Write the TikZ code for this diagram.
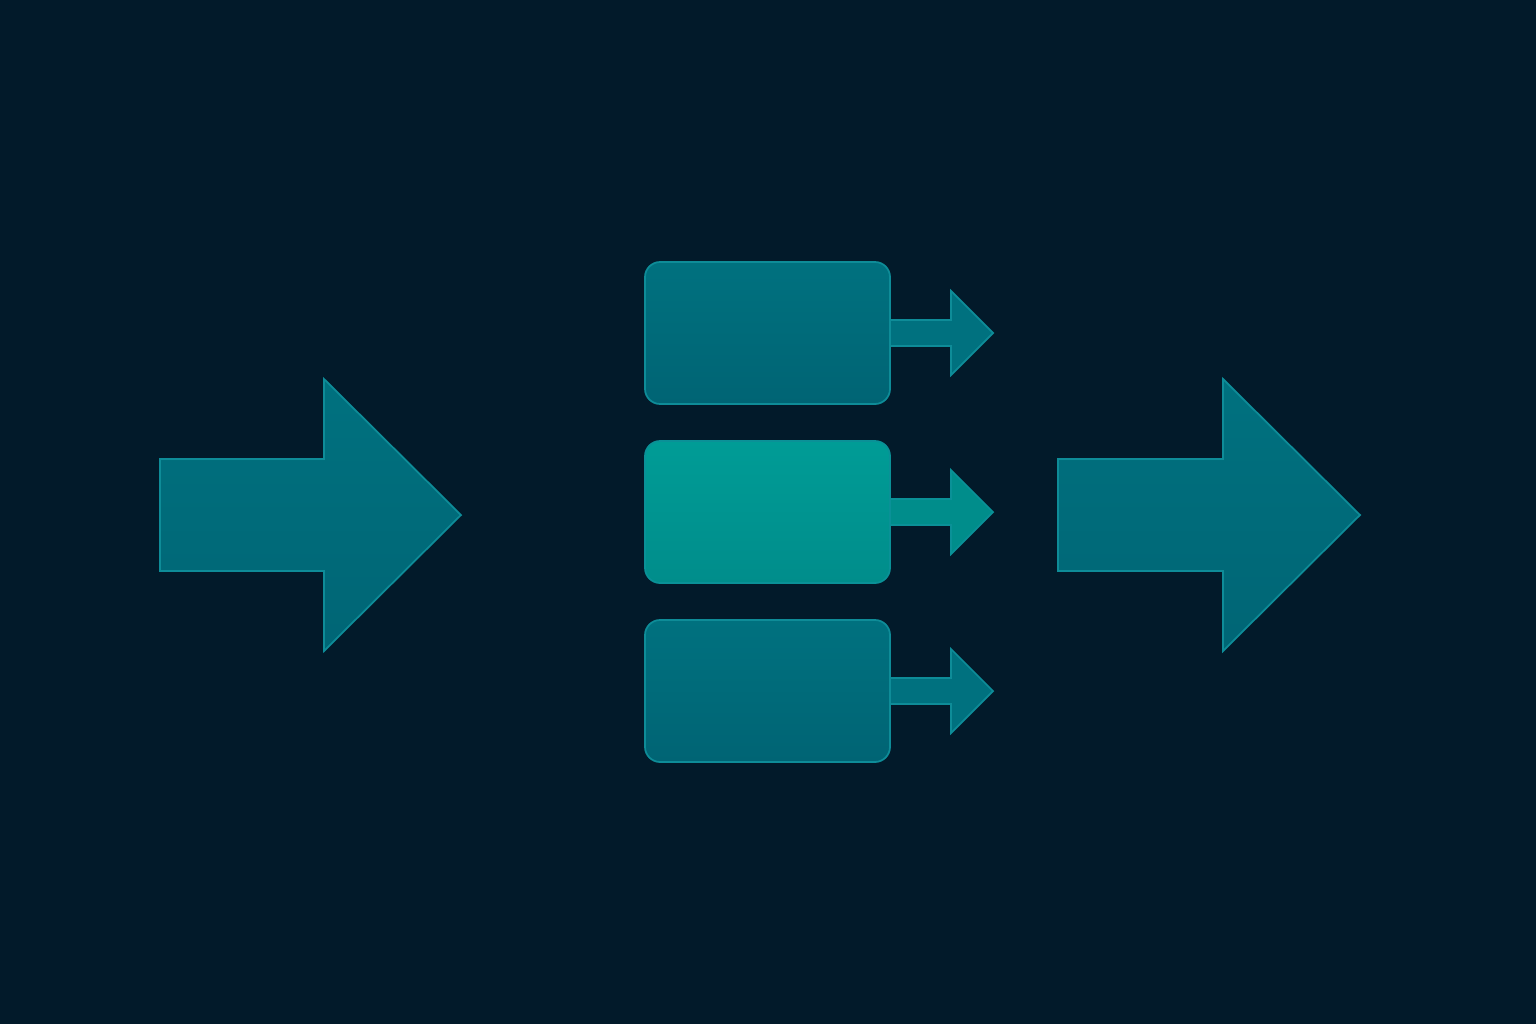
\documentclass[tikz,border=0pt]{standalone}
\usepackage{tikz}

\definecolor{navy}{HTML}{021A2A}
\definecolor{tealdark}{HTML}{006474}
\definecolor{tealmid}{HTML}{00717F}
\definecolor{tealhi}{HTML}{009C96}
\definecolor{tealhilow}{HTML}{008D8B}
\definecolor{rim}{HTML}{0E8C98}

\tikzset{
  bigarrow/.style={top color=tealmid, bottom color=tealdark!90!tealmid, draw=rim, line width=0.5pt},
  stage/.style={top color=tealmid, bottom color=tealdark, draw=rim, line width=0.5pt, rounded corners=4.3pt},
  stagehi/.style={top color=tealhi, bottom color=tealhilow, draw=rim!70!tealhi, line width=0.5pt, rounded corners=4.3pt},
  smallarrow/.style={fill=tealmid, draw=rim, line width=0.5pt},
  smallarrowhi/.style={fill=tealhilow, draw=rim!70!tealhi, line width=0.5pt}
}

\begin{document}
\begin{tikzpicture}[x=0.01cm, y=0.01cm]
\fill[navy] (0,0) rectangle (1536,-1024);
% input arrow
\path[bigarrow] (160,-459) -- (324,-459) -- (324,-379) -- (461,-515) -- (324,-651) -- (324,-571) -- (160,-571) -- cycle;
% output arrow
\path[bigarrow] (1058,-459) -- (1223,-459) -- (1223,-379) -- (1360,-515) -- (1223,-651) -- (1223,-571) -- (1058,-571) -- cycle;
% top stage
\path[smallarrow] (885,-320) -- (951,-320) -- (951,-291) -- (993,-333) -- (951,-375) -- (951,-346) -- (885,-346) -- cycle;
\path[stage] (645,-262) rectangle (890,-404);
% middle stage
\path[smallarrowhi] (885,-499) -- (951,-499) -- (951,-470) -- (993,-512) -- (951,-554) -- (951,-525) -- (885,-525) -- cycle;
\path[stagehi] (645,-441) rectangle (890,-583);
% bottom stage
\path[smallarrow] (885,-678) -- (951,-678) -- (951,-649) -- (993,-691) -- (951,-733) -- (951,-704) -- (885,-704) -- cycle;
\path[stage] (645,-620) rectangle (890,-762);
\end{tikzpicture}
\end{document}
